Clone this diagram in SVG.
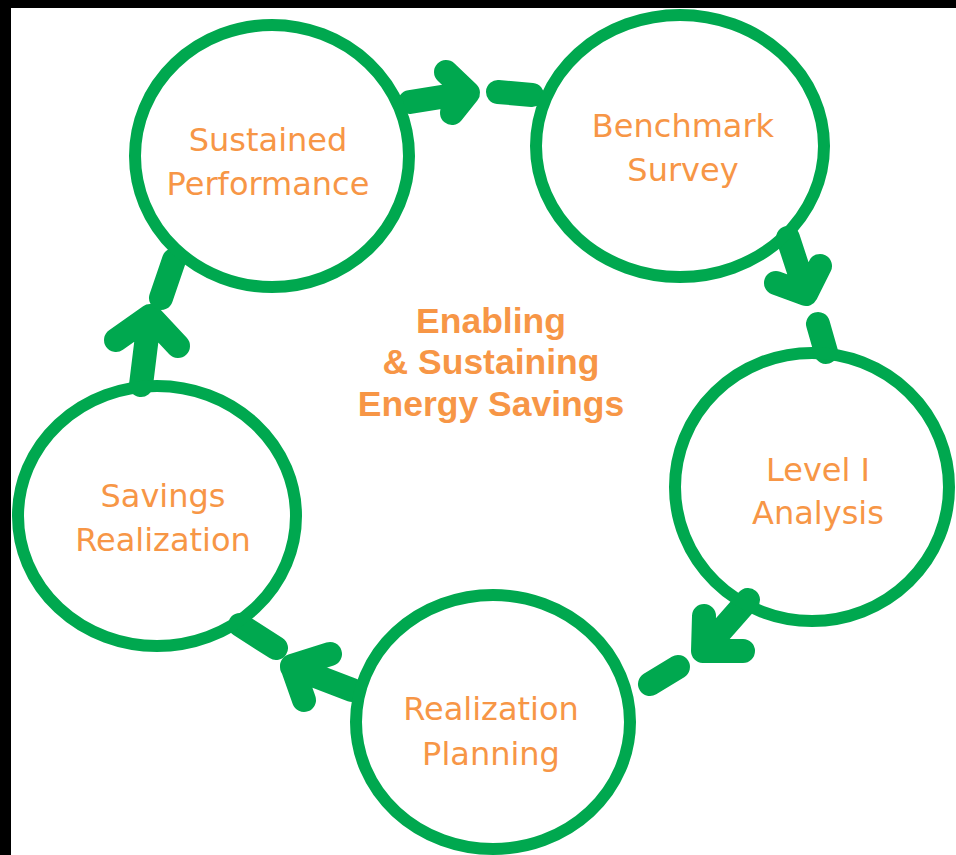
<svg xmlns="http://www.w3.org/2000/svg" width="956" height="855" viewBox="0 0 956 855">
<style>
.ring{fill:none;stroke:#00A84F;stroke-width:12}
.arw{fill:none;stroke:#00A84F;stroke-width:24;stroke-linecap:round;stroke-linejoin:round}
.lbl{font-family:"DejaVu Sans",Verdana,sans-serif;font-size:32px;fill:#F79646;text-anchor:middle}
.ctr{font-family:"Liberation Sans",Arial,sans-serif;font-weight:bold;font-size:35.5px;fill:#F79646;text-anchor:middle}
</style>
<rect width="956" height="855" fill="#FFFFFF"/>
<rect x="0" y="0" width="956" height="8" fill="#000000"/>
<rect x="0" y="0" width="11" height="855" fill="#000000"/>
<g id="connectors">
<path class="arw" d="M410,102 L466,93 M446,72 L468,93 L452,113"/>
<path class="arw" d="M498,92 L532,95"/>
<path class="arw" d="M788,238 L806,293 M776,283 L806,294 L820,266"/>
<path class="arw" d="M818,324 L826,352"/>
<path class="arw" d="M748,600 L704,650 M704,616 L703,651 L743,651"/>
<path class="arw" d="M678,667 L650,684"/>
<path class="arw" d="M352,690 L292,667 M330,654 L292,666 L304,700"/>
<path class="arw" d="M276,648 L240,625"/>
<path class="arw" d="M141,385 L149,320 M116,340 L150,316 L178,346"/>
<path class="arw" d="M161,298 L174,260"/>
</g>
<g id="sustained">
<ellipse class="ring" cx="272" cy="156" rx="137" ry="131"/>
<text class="lbl" x="268" y="151">Sustained</text>
<text class="lbl" x="268" y="195">Performance</text>
</g>
<g id="benchmark">
<ellipse class="ring" cx="680" cy="146" rx="144" ry="131"/>
<text class="lbl" x="683" y="137">Benchmark</text>
<text class="lbl" x="683" y="181">Survey</text>
</g>
<g id="level1">
<ellipse class="ring" cx="812" cy="487" rx="137" ry="134"/>
<text class="lbl" x="818" y="481">Level I</text>
<text class="lbl" x="818" y="524">Analysis</text>
</g>
<g id="planning">
<ellipse class="ring" cx="493" cy="722" rx="137" ry="127"/>
<text class="lbl" x="491" y="720">Realization</text>
<text class="lbl" x="491" y="765">Planning</text>
</g>
<g id="savings">
<ellipse class="ring" cx="157" cy="516" rx="139" ry="130"/>
<text class="lbl" x="163" y="507">Savings</text>
<text class="lbl" x="163" y="551">Realization</text>
</g>
<g id="center">
<text class="ctr" x="491" y="333">Enabling</text>
<text class="ctr" x="491" y="374">&amp; Sustaining</text>
<text class="ctr" x="491" y="416">Energy Savings</text>
</g>
</svg>
